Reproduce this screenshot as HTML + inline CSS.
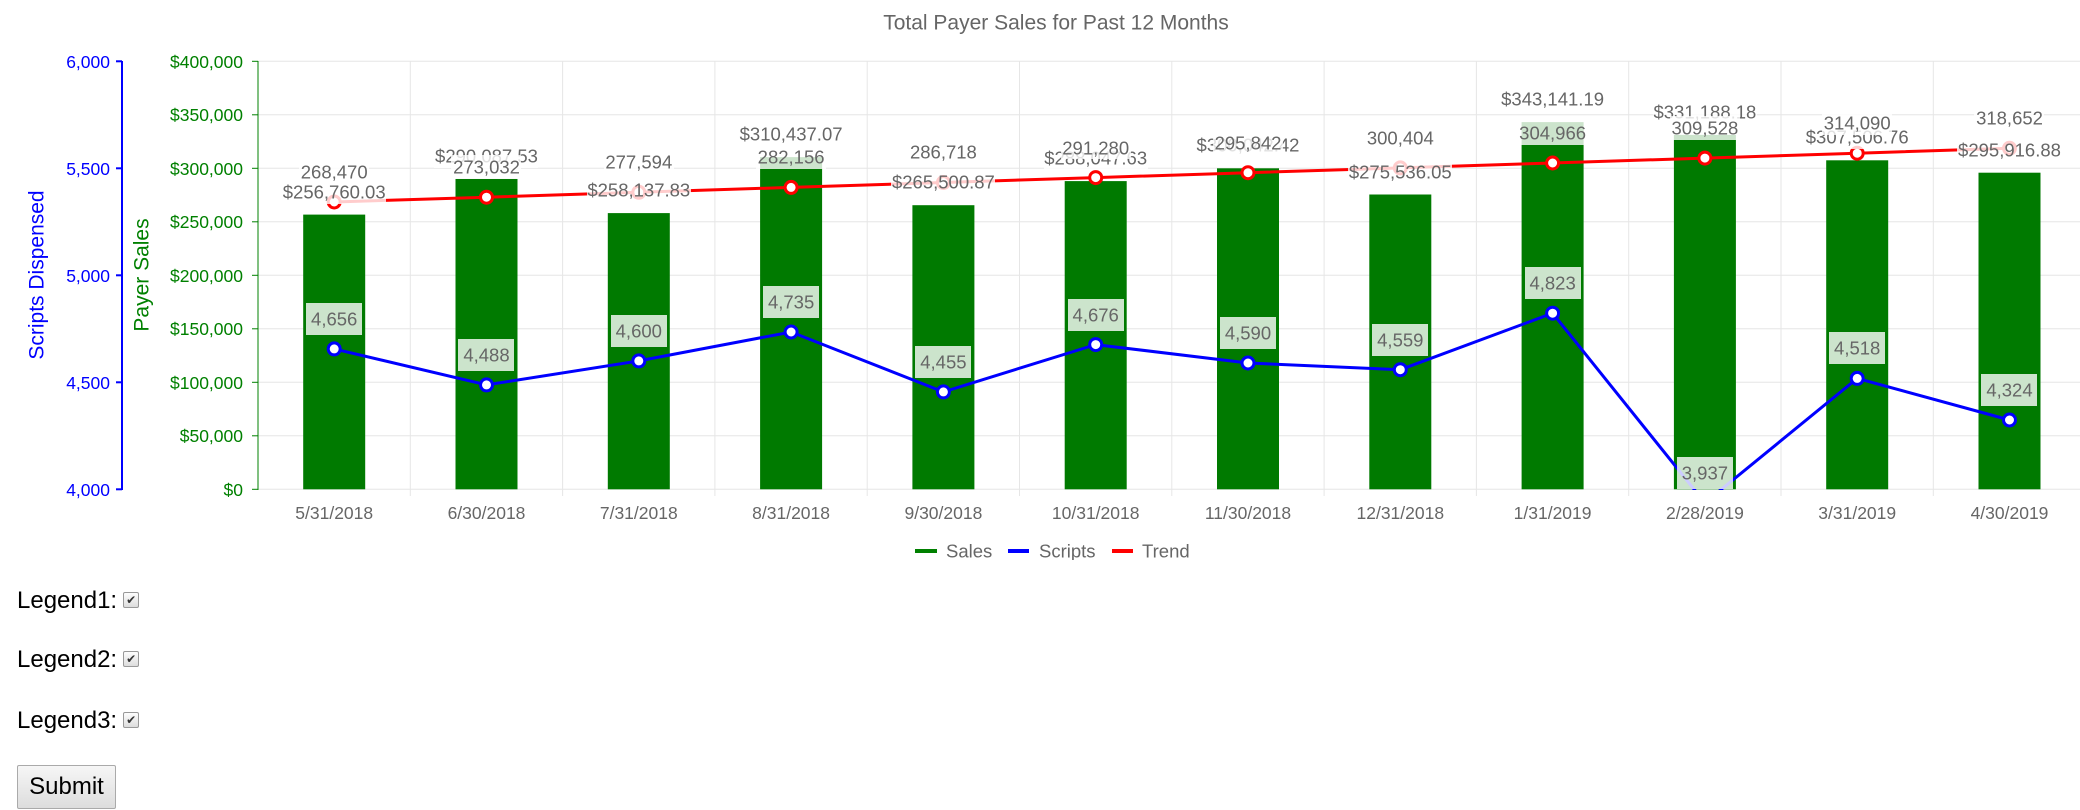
<!DOCTYPE html>
<html><head><meta charset="utf-8"><style>
body{margin:0;background:#fff;width:2080px;height:810px;overflow:hidden;font-family:"Liberation Sans",Arial,sans-serif;}
svg{position:absolute;left:0;top:0}
.f{position:absolute;left:17px;font-size:24px;color:#000;}
.cb{display:inline-block;width:14px;height:14px;border:1px solid #999;border-radius:2px;background:linear-gradient(#fdfdfd,#ddd);vertical-align:4px;margin-left:6px;font-size:12px;line-height:14px;text-align:center;color:#333}
.btn{position:absolute;left:17px;top:765px;width:99px;height:44px;border:1px solid #aaa;background:linear-gradient(#f6f6f6,#ddd);font-size:24px;text-align:center;line-height:42px;box-sizing:border-box;border-radius:2px}
</style></head><body>
<svg width="2080" height="560" font-family="Liberation Sans, Arial, sans-serif">
<defs><clipPath id="c"><rect x="258" y="61" width="1822" height="429"/></clipPath></defs>
<text x="1056" y="23" font-size="21" fill="#666" text-anchor="middle" dominant-baseline="central">Total Payer Sales for Past 12 Months</text>
<g stroke="#e6e6e6" stroke-width="1">
<line x1="258" y1="61.3" x2="2080" y2="61.3"/><line x1="258" y1="114.8" x2="2080" y2="114.8"/><line x1="258" y1="168.3" x2="2080" y2="168.3"/><line x1="258" y1="221.8" x2="2080" y2="221.8"/><line x1="258" y1="275.3" x2="2080" y2="275.3"/><line x1="258" y1="328.8" x2="2080" y2="328.8"/><line x1="258" y1="382.3" x2="2080" y2="382.3"/><line x1="258" y1="435.8" x2="2080" y2="435.8"/><line x1="258" y1="489.3" x2="2080" y2="489.3"/>
<line x1="410.3" y1="61" x2="410.3" y2="496"/><line x1="562.6" y1="61" x2="562.6" y2="496"/><line x1="714.9" y1="61" x2="714.9" y2="496"/><line x1="867.2" y1="61" x2="867.2" y2="496"/><line x1="1019.5" y1="61" x2="1019.5" y2="496"/><line x1="1171.8" y1="61" x2="1171.8" y2="496"/><line x1="1324.1" y1="61" x2="1324.1" y2="496"/><line x1="1476.4" y1="61" x2="1476.4" y2="496"/><line x1="1628.7" y1="61" x2="1628.7" y2="496"/><line x1="1781" y1="61" x2="1781" y2="496"/><line x1="1933.3" y1="61" x2="1933.3" y2="496"/>
</g>
<g stroke="#00f" stroke-width="2"><line x1="122" y1="61" x2="122" y2="490"/>
<line x1="116" y1="61.3" x2="122" y2="61.3"/><line x1="116" y1="168.3" x2="122" y2="168.3"/><line x1="116" y1="275.3" x2="122" y2="275.3"/><line x1="116" y1="382.3" x2="122" y2="382.3"/><line x1="116" y1="489.3" x2="122" y2="489.3"/></g>
<g fill="#00f" font-size="17.5" text-anchor="end" dominant-baseline="central">
<text x="110" y="62">6,000</text><text x="110" y="169">5,500</text><text x="110" y="276">5,000</text><text x="110" y="383">4,500</text><text x="110" y="490">4,000</text></g>
<text transform="translate(37,275) rotate(-90)" fill="#00f" font-size="21" text-anchor="middle" dominant-baseline="central">Scripts Dispensed</text>
<g stroke="#008000" stroke-width="1"><line x1="258" y1="61" x2="258" y2="490"/>
<line x1="252" y1="61.3" x2="258" y2="61.3"/><line x1="252" y1="114.8" x2="258" y2="114.8"/><line x1="252" y1="168.3" x2="258" y2="168.3"/><line x1="252" y1="221.8" x2="258" y2="221.8"/><line x1="252" y1="275.3" x2="258" y2="275.3"/><line x1="252" y1="328.8" x2="258" y2="328.8"/><line x1="252" y1="382.3" x2="258" y2="382.3"/><line x1="252" y1="435.8" x2="258" y2="435.8"/><line x1="252" y1="489.3" x2="258" y2="489.3"/></g>
<g fill="#008000" font-size="17.5" text-anchor="end" dominant-baseline="central">
<text x="243" y="62">$400,000</text><text x="243" y="115">$350,000</text><text x="243" y="169">$300,000</text><text x="243" y="222">$250,000</text><text x="243" y="276">$200,000</text><text x="243" y="329">$150,000</text><text x="243" y="383">$100,000</text><text x="243" y="436">$50,000</text><text x="243" y="490">$0</text></g>
<text transform="translate(142,275) rotate(-90)" fill="#008000" font-size="21" text-anchor="middle" dominant-baseline="central">Payer Sales</text>
<g fill="#007a00">
<rect x="303.2" y="214.6" width="62" height="274.7"/><rect x="455.5" y="178.9" width="62" height="310.4"/><rect x="607.8" y="213.1" width="62" height="276.2"/><rect x="760.1" y="157.1" width="62" height="332.2"/><rect x="912.4" y="205.2" width="62" height="284.1"/><rect x="1064.7" y="181.1" width="62" height="308.2"/><rect x="1217" y="168.3" width="62" height="321"/><rect x="1369.3" y="194.5" width="62" height="294.8"/><rect x="1521.6" y="122.1" width="62" height="367.2"/><rect x="1673.9" y="134.9" width="62" height="354.4"/><rect x="1826.2" y="160.3" width="62" height="329"/><rect x="1978.5" y="172.7" width="62" height="316.6"/></g>
<g clip-path="url(#c)">
<polyline fill="none" stroke="#f00" stroke-width="3" points="334.2,202 486.5,197.2 638.8,192.3 791.1,187.4 943.4,182.5 1095.7,177.6 1248,172.7 1400.3,167.9 1552.6,163 1704.9,158.1 1857.2,153.2 2009.5,148.3"/>
<polyline fill="none" stroke="#00f" stroke-width="3" points="334.2,348.9 486.5,384.9 638.8,360.9 791.1,332 943.4,391.9 1095.7,344.6 1248,363 1400.3,369.7 1552.6,313.2 1704.9,502.8 1857.2,378.4 2009.5,420"/>
<g fill="#fff" stroke="#f00" stroke-width="3">
<circle cx="334.2" cy="202" r="6"/><circle cx="486.5" cy="197.2" r="6"/><circle cx="638.8" cy="192.3" r="6"/><circle cx="791.1" cy="187.4" r="6"/><circle cx="943.4" cy="182.5" r="6"/><circle cx="1095.7" cy="177.6" r="6"/><circle cx="1248" cy="172.7" r="6"/><circle cx="1400.3" cy="167.9" r="6"/><circle cx="1552.6" cy="163" r="6"/><circle cx="1704.9" cy="158.1" r="6"/><circle cx="1857.2" cy="153.2" r="6"/><circle cx="2009.5" cy="148.3" r="6"/></g>
<g fill="#fff" stroke="#00f" stroke-width="3">
<circle cx="334.2" cy="348.9" r="6"/><circle cx="486.5" cy="384.9" r="6"/><circle cx="638.8" cy="360.9" r="6"/><circle cx="791.1" cy="332" r="6"/><circle cx="943.4" cy="391.9" r="6"/><circle cx="1095.7" cy="344.6" r="6"/><circle cx="1248" cy="363" r="6"/><circle cx="1400.3" cy="369.7" r="6"/><circle cx="1552.6" cy="313.2" r="6"/><circle cx="2009.5" cy="420" r="6"/><circle cx="1857.2" cy="378.4" r="6"/></g>
</g>
<g font-size="18.5" text-anchor="middle" dominant-baseline="central">
<g fill="#fff" fill-opacity="0.8">
<rect x="282" y="180" width="104" height="24"/><rect x="434" y="144" width="104" height="24"/><rect x="587" y="178" width="104" height="24"/><rect x="739" y="122" width="104" height="24"/><rect x="891" y="170" width="104" height="24"/><rect x="1044" y="146" width="104" height="24"/><rect x="1196" y="133" width="104" height="24"/><rect x="1348" y="160" width="104" height="24"/><rect x="1501" y="87" width="104" height="24"/><rect x="1653" y="100" width="104" height="24"/><rect x="1805" y="125" width="104" height="24"/><rect x="1957" y="138" width="104" height="24"/></g>
<g fill="#666">
<text x="334.2" y="192">$256,760.03</text><text x="486.5" y="156">$290,087.53</text><text x="638.8" y="190">$258,137.83</text><text x="791.1" y="134">$310,437.07</text><text x="943.4" y="182">$265,500.87</text><text x="1095.7" y="158">$288,047.63</text><text x="1248" y="145">$300,042.42</text><text x="1400.3" y="172">$275,536.05</text><text x="1552.6" y="99">$343,141.19</text><text x="1704.9" y="112">$331,188.18</text><text x="1857.2" y="137">$307,506.76</text><text x="2009.5" y="150">$295,916.88</text></g>
<g fill="#fff" fill-opacity="0.8">
<rect x="299" y="160" width="70" height="24"/><rect x="451" y="155" width="70" height="24"/><rect x="604" y="150" width="70" height="24"/><rect x="756" y="145" width="70" height="24"/><rect x="908" y="140" width="70" height="24"/><rect x="1061" y="135" width="70" height="24"/><rect x="1213" y="131" width="70" height="24"/><rect x="1365" y="126" width="70" height="24"/><rect x="1518" y="121" width="70" height="24"/><rect x="1670" y="116" width="70" height="24"/><rect x="1822" y="111" width="70" height="24"/><rect x="1974" y="106" width="70" height="24"/></g>
<g fill="#666">
<text x="334.2" y="172">268,470</text><text x="486.5" y="167">273,032</text><text x="638.8" y="162">277,594</text><text x="791.1" y="157">282,156</text><text x="943.4" y="152">286,718</text><text x="1095.7" y="148">291,280</text><text x="1248" y="143">295,842</text><text x="1400.3" y="138">300,404</text><text x="1552.6" y="133">304,966</text><text x="1704.9" y="128">309,528</text><text x="1857.2" y="123">314,090</text><text x="2009.5" y="118">318,652</text></g>
<g fill="#fff" fill-opacity="0.8">
<rect x="306" y="303" width="56" height="32"/><rect x="458" y="339" width="56" height="32"/><rect x="611" y="315" width="56" height="32"/><rect x="763" y="286" width="56" height="32"/><rect x="915" y="346" width="56" height="32"/><rect x="1068" y="299" width="56" height="32"/><rect x="1220" y="317" width="56" height="32"/><rect x="1372" y="324" width="56" height="32"/><rect x="1525" y="267" width="56" height="32"/><rect x="1677" y="457" width="56" height="32"/><rect x="1829" y="332" width="56" height="32"/><rect x="1981" y="374" width="56" height="32"/></g>
<g fill="#666">
<text x="334.2" y="319">4,656</text><text x="486.5" y="355">4,488</text><text x="638.8" y="331">4,600</text><text x="791.1" y="302">4,735</text><text x="943.4" y="362">4,455</text><text x="1095.7" y="315">4,676</text><text x="1248" y="333">4,590</text><text x="1400.3" y="340">4,559</text><text x="1552.6" y="283">4,823</text><text x="1704.9" y="473">3,937</text><text x="1857.2" y="348">4,518</text><text x="2009.5" y="390">4,324</text></g>
</g>
<g fill="#666" font-size="17.5" text-anchor="middle" dominant-baseline="central">
<text x="334.2" y="513">5/31/2018</text><text x="486.5" y="513">6/30/2018</text><text x="638.8" y="513">7/31/2018</text><text x="791.1" y="513">8/31/2018</text><text x="943.4" y="513">9/30/2018</text><text x="1095.7" y="513">10/31/2018</text><text x="1248" y="513">11/30/2018</text><text x="1400.3" y="513">12/31/2018</text><text x="1552.6" y="513">1/31/2019</text><text x="1704.9" y="513">2/28/2019</text><text x="1857.2" y="513">3/31/2019</text><text x="2009.5" y="513">4/30/2019</text></g>
<g stroke-width="4"><line x1="915" y1="551" x2="937" y2="551" stroke="#008000"/><line x1="1008" y1="551" x2="1029" y2="551" stroke="#00f"/><line x1="1112" y1="551" x2="1133" y2="551" stroke="#f00"/></g>
<g fill="#666" font-size="18.5" dominant-baseline="central">
<text x="946" y="551">Sales</text><text x="1039" y="551">Scripts</text><text x="1142" y="551">Trend</text></g>
</svg>
<div class="f" style="top:587px">Legend1:<span class="cb">✔</span></div>
<div class="f" style="top:646px">Legend2:<span class="cb">✔</span></div>
<div class="f" style="top:707px">Legend3:<span class="cb">✔</span></div>
<div class="btn">Submit</div>
</body></html>
